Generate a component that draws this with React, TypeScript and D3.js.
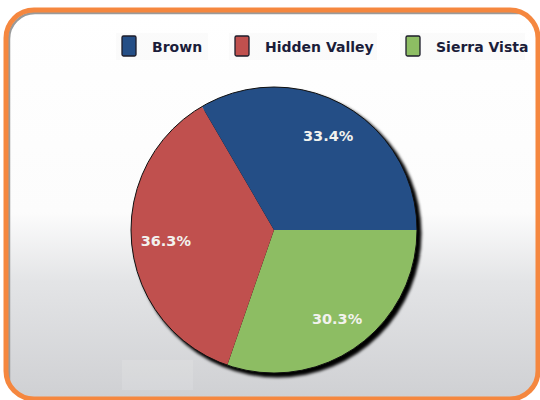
import React from "react";
import * as d3 from "d3";

const categories = ["Sierra Vista", "Hidden Valley", "Brown"];
const values = [30.3, 36.3, 33.4];
const colors = ["#8dbd63", "#c0504e", "#244e86"];
const legendOrder = ["Brown", "Hidden Valley", "Sierra Vista"];
const legendX = [122, 235, 406];

const W = 540;
const H = 400;
const cx = 274;
const cy = 230;
const R = 143;

export default function App() {
  const data = categories.map((c, i) => ({ name: c, value: values[i], color: colors[i] }));
  const pie = d3
    .pie<any>()
    .value((d) => d.value)
    .sort(null)
    .startAngle(Math.PI / 2)
    .endAngle(Math.PI / 2 + 2 * Math.PI);
  const arcs = pie(data);
  const arc = d3.arc<any>().innerRadius(0).outerRadius(R);
  const labelArc = d3.arc<any>().innerRadius(R * 0.76).outerRadius(R * 0.76);
  const colorOf = d3.scaleOrdinal<string, string>().domain(categories).range(colors);

  return (
    <svg
      width={W}
      height={H}
      style={{ position: "absolute", left: 0, top: 0, display: "block" }}
    >
      <defs>
        <linearGradient id="bg" x1="0" y1="0" x2="0" y2="1">
          <stop offset="0" stopColor="#ffffff" />
          <stop offset="0.52" stopColor="#fcfcfc" />
          <stop offset="0.7" stopColor="#e3e4e6" />
          <stop offset="1" stopColor="#cfd0d3" />
        </linearGradient>
        <filter id="shadow" x="-20%" y="-20%" width="140%" height="140%">
          <feGaussianBlur stdDeviation="1.8" />
        </filter>
        <clipPath id="inner">
          <rect x={6} y={10} width={532} height={389} rx={28} ry={28} />
        </clipPath>
      </defs>
      <rect x={0} y={0} width={W} height={H} fill="#ffffff" />
      <rect x={6} y={10} width={532} height={389} rx={28} ry={28} fill="url(#bg)" />
      <g clipPath="url(#inner)">
        <rect
          x={9}
          y={13}
          width={540}
          height={400}
          rx={26}
          ry={26}
          fill="none"
          stroke="#9a9a9a"
          strokeWidth={2.5}
        />
        <rect x={122} y={360} width={71} height={30} fill="#ffffff" opacity={0.12} />
      </g>
      <rect
        x={6}
        y={10}
        width={532}
        height={389}
        rx={28}
        ry={28}
        fill="none"
        stroke="#f5873f"
        strokeWidth={5}
      />

      {/* legend */}
      {legendOrder.map((name, i) => (
        <g key={name}>
          <rect
            x={legendX[i] - 6}
            y={33}
            width={i === 0 ? 92 : i === 1 ? 148 : 125}
            height={27}
            fill="#f4f4f4"
            opacity={0.35}
          />
          <rect
            x={legendX[i]}
            y={36}
            width={14}
            height={20}
            rx={1.5}
            fill={colorOf(name)}
            stroke="#1c1c2a"
            strokeWidth={1.3}
          />
          <text
            x={legendX[i] + 30}
            y={52}
            fontFamily="'DejaVu Sans', Verdana, sans-serif"
            fontWeight="bold"
            fontSize={14}
            fill="#1b1d3a"
          >
            {name}
          </text>
        </g>
      ))}

      {/* pie shadow */}
      <circle cx={cx + 3.5} cy={cy + 3.5} r={R + 1} fill="#000" filter="url(#shadow)" />
      <g transform={`translate(${cx},${cy})`}>
        {arcs.map((a) => (
          <path key={a.data.name} d={arc(a) as string} fill={a.data.color} />
        ))}
        <circle r={R} fill="none" stroke="#111" strokeWidth={1} />
        {arcs.map((a) => {
          const [lx, ly] = labelArc.centroid(a);
          return (
            <text
              key={"l" + a.data.name}
              x={lx}
              y={ly}
              textAnchor="middle"
              dominantBaseline="central"
              fontFamily="'DejaVu Sans', Verdana, sans-serif"
              fontWeight="bold"
              fontSize={14.5}
              fill="#f2f2ee"
            >
              {a.data.value.toFixed(1) + "%"}
            </text>
          );
        })}
      </g>
    </svg>
  );
}
